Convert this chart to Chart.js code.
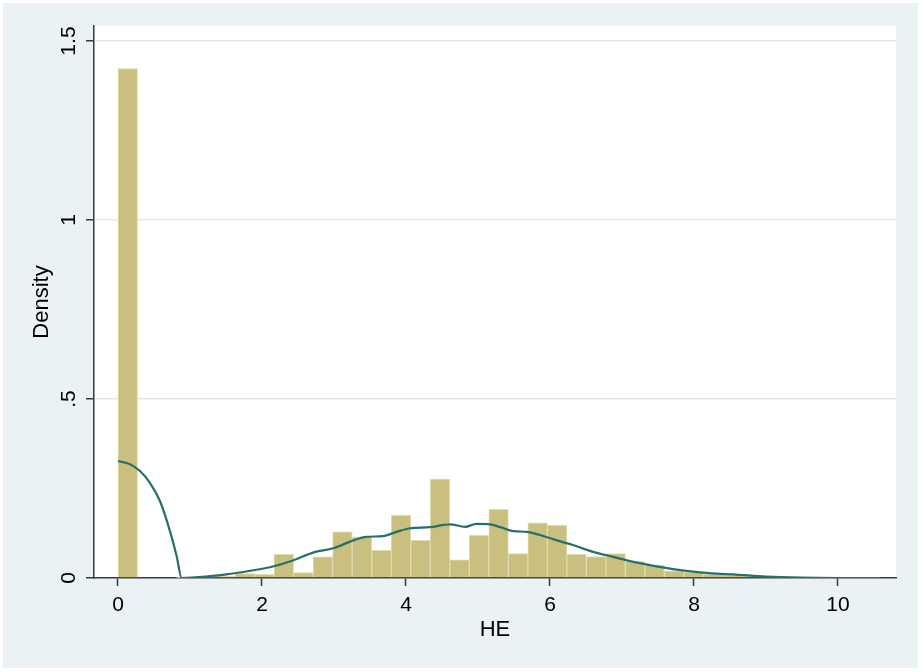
<!DOCTYPE html>
<html lang="en">
<head>
  <meta charset="UTF-8">
  <title>HE density</title>
  <script src="https://cdn.jsdelivr.net/npm/chart.js@4/dist/chart.umd.min.js"></script>
  <style>
    * { box-sizing: border-box; margin: 0; padding: 0; }
    body { background: #ffffff; width: 922px; height: 672px; overflow: hidden; }
    canvas { display: block; }
  </style>
</head>
<body>
  <canvas id="chart" width="922" height="672"></canvas>

<script>
// Histogram bins (centres) and their densities
const BIN_CENTERS = [
  0.136, 0.407, 0.678, 0.949, 1.220, 1.491, 1.762, 2.033, 2.304, 2.575,
  2.846, 3.117, 3.389, 3.660, 3.931, 4.202, 4.473, 4.744, 5.015, 5.286,
  5.557, 5.828, 6.099, 6.370, 6.641, 6.912, 7.183, 7.454, 7.725, 7.996,
  8.267, 8.538, 8.809, 9.080, 9.351, 9.623, 9.894, 10.165, 10.436
];
const BIN_DENSITY = [
  1.423, 0, 0, 0.001, 0.002, 0.004, 0.012, 0.010, 0.066, 0.015,
  0.059, 0.129, 0.115, 0.077, 0.175, 0.105, 0.276, 0.051, 0.119, 0.192,
  0.068, 0.154, 0.147, 0.066, 0.060, 0.068, 0.046, 0.036, 0.020, 0.016,
  0.010, 0.008, 0.006, 0.004, 0.003, 0.002, 0.002, 0.001, 0.001
];

// Kernel density curve
const KDE_X = [
  0, 0.167, 0.306, 0.444, 0.583, 0.722, 0.815, 0.885, 1.28, 1.51,
  1.83, 2.11, 2.43, 2.71, 2.99, 3.27, 3.45, 3.68, 3.87, 4.06,
  4.33, 4.61, 4.82, 4.98, 5.17, 5.31, 5.49, 5.68, 5.86, 6.05,
  6.32, 6.60, 6.88, 7.16, 7.44, 7.71, 7.99, 8.31, 8.54, 9.0,
  9.47, 10.0, 10.58
];
const KDE_Y = [
  0.327, 0.318, 0.299, 0.266, 0.215, 0.131, 0.061, 0, 0.005, 0.010,
  0.020, 0.030, 0.049, 0.071, 0.083, 0.105, 0.115, 0.117, 0.129, 0.139,
  0.142, 0.150, 0.143, 0.151, 0.150, 0.142, 0.131, 0.129, 0.120, 0.108,
  0.092, 0.073, 0.059, 0.045, 0.034, 0.025, 0.018, 0.012, 0.010, 0.004,
  0.001, 0, 0
];

const X_TICKS = [0, 2, 4, 6, 8, 10];
const X_TICK_LABELS = ['0', '2', '4', '6', '8', '10'];
const Y_TICKS = [0, 0.5, 1, 1.5];
const Y_TICK_LABELS = ['0', '.5', '1', '1.5'];

const FONT = '"Liberation Sans", Arial, sans-serif';
const OUTER_BG = '#EAF2F3';
const GRID = '#E1EBEE';
const AXIS = '#3a3a3a';

// outer grey-blue frame with white plot region
const backdrop = {
  id: 'backdrop',
  beforeDraw(chart) {
    const { ctx, chartArea: a } = chart;
    ctx.save();
    ctx.fillStyle = '#ffffff';
    ctx.fillRect(0, 0, chart.width, chart.height);
    ctx.fillStyle = OUTER_BG;
    ctx.fillRect(3, 3, 915, 665);
    ctx.fillStyle = '#ffffff';
    ctx.fillRect(a.left, a.top, a.right - a.left, a.bottom - a.top);
    ctx.restore();
  }
};

// y tick labels are turned 90 degrees, as Stata draws them
const yLabels = {
  id: 'yLabels',
  afterDraw(chart) {
    const { ctx } = chart;
    const y = chart.scales.y;
    ctx.save();
    ctx.fillStyle = '#000';
    ctx.font = '21px ' + FONT;
    ctx.textAlign = 'center';
    ctx.textBaseline = 'alphabetic';
    Y_TICKS.forEach((v, i) => {
      ctx.save();
      ctx.translate(y.right - 19, y.getPixelForValue(v));
      ctx.rotate(-Math.PI / 2);
      ctx.fillText(Y_TICK_LABELS[i], 0, 0);
      ctx.restore();
    });
    ctx.restore();
  }
};

new Chart(document.getElementById('chart'), {
  type: 'bar',
  data: {
    datasets: [
      {
        type: 'line',
        data: KDE_X.map((x, i) => ({ x, y: KDE_Y[i] })),
        borderColor: '#27706A',
        borderWidth: 2.2,
        pointRadius: 0,
        cubicInterpolationMode: 'monotone',
        fill: false,
        order: 0,
      },
      {
        type: 'bar',
        data: BIN_CENTERS.map((x, i) => ({ x, y: BIN_DENSITY[i] })),
        backgroundColor: 'rgb(201,192,128)',
        borderColor: 'rgb(224,218,172)',
        borderWidth: 1,
        barPercentage: 1,
        categoryPercentage: 1,
        grouped: false,
        order: 1,
      },
    ],
  },
  options: {
    responsive: false,
    animation: false,
    devicePixelRatio: 1,
    layout: { padding: { top: 26, right: 26, left: 0, bottom: 0 } },
    plugins: { legend: { display: false }, tooltip: { enabled: false } },
    scales: {
      x: {
        type: 'linear',
        min: -0.333,
        max: 10.806,
        offset: false,
        afterBuildTicks: s => { s.ticks = X_TICKS.map(v => ({ value: v })); },
        afterFit: s => { s.height = 94; },
        ticks: {
          color: '#000',
          font: { family: FONT, size: 21 },
          padding: 7,
          maxRotation: 0,
          callback: (v, i) => X_TICK_LABELS[i],
        },
        grid: { offset: false, drawOnChartArea: false, drawTicks: true, tickLength: 8, tickColor: AXIS, tickWidth: 1.5 },
        border: { color: AXIS, width: 1.5 },
        title: {
          display: true,
          text: 'HE',
          color: '#000',
          font: { family: FONT, size: 22 },
          padding: { top: 0, bottom: 29 },
        },
      },
      y: {
        type: 'linear',
        min: 0,
        max: 1.542,
        afterBuildTicks: s => { s.ticks = Y_TICKS.map(v => ({ value: v })); },
        afterFit: s => { s.width = 94; },
        ticks: { display: false },
        grid: {
          offset: false,
          color: ctx => (ctx.tick && ctx.tick.value === 0 ? 'rgba(0,0,0,0)' : GRID),
          lineWidth: 1.5,
          drawTicks: true,
          tickLength: 8,
          tickColor: AXIS,
          tickWidth: 1.5,
        },
        border: { color: AXIS, width: 1.5 },
        title: {
          display: true,
          text: 'Density',
          color: '#000',
          font: { family: FONT, size: 22 },
          padding: { top: 29, bottom: 0 },
        },
      },
    },
  },
  plugins: [backdrop, yLabels],
});
</script>
</body>
</html>
